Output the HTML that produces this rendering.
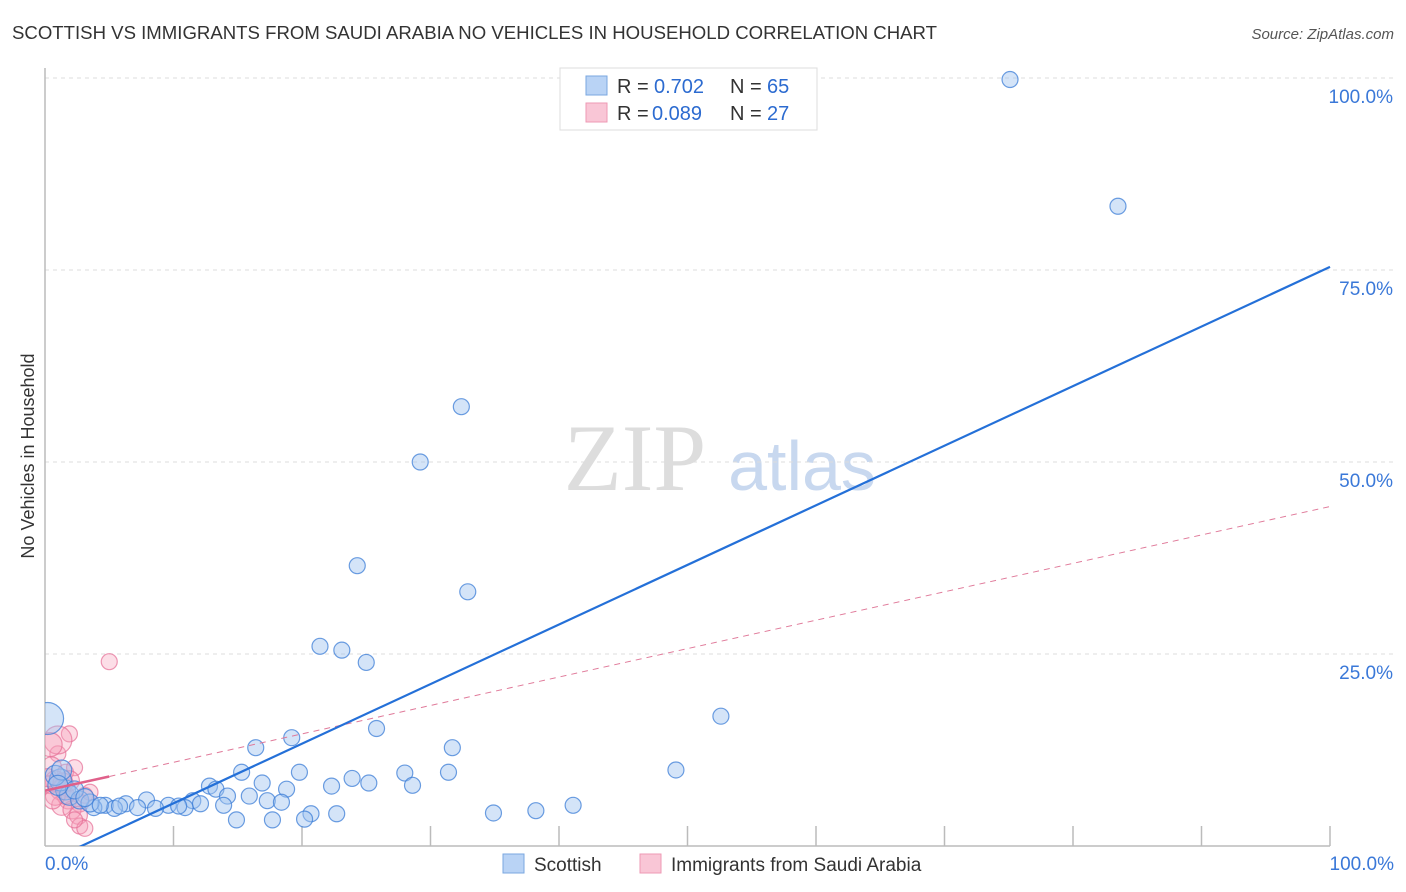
<!DOCTYPE html>
<html><head><meta charset="utf-8"><style>
body{margin:0;background:#fff;font-family:"Liberation Sans",sans-serif}
svg{display:block}
</style></head><body>
<svg id="c" width="1406" height="892">
<defs><clipPath id="pc"><rect x="45" y="60" width="1361" height="786"/></clipPath></defs>
<text x="12" y="39" font-size="18.5" fill="#333" textLength="925" lengthAdjust="spacingAndGlyphs">SCOTTISH VS IMMIGRANTS FROM SAUDI ARABIA NO VEHICLES IN HOUSEHOLD CORRELATION CHART</text>
<text x="1394" y="39" font-size="15" fill="#555" font-style="italic" text-anchor="end">Source: ZipAtlas.com</text>
<text x="0" y="0" transform="translate(34,456) rotate(-90)" font-size="18" fill="#333" text-anchor="middle">No Vehicles in Household</text>
<g><text x="635" y="490" font-size="95" font-family="Liberation Serif,serif" fill="#ddd" text-anchor="middle">ZIP</text><text x="802" y="490" font-size="70" fill="#c8d8ef" text-anchor="middle">atlas</text></g>
<g id="grid"></g><g id="marks" clip-path="url(#pc)"></g>
<g>
<rect x="560" y="68" width="257" height="62" fill="#fff" stroke="#ddd"/>
<rect x="586" y="76" width="21" height="19" fill="#b9d3f5" stroke="#7aa7e0"/>
<rect x="586" y="103" width="21" height="19" fill="#f9c6d6" stroke="#ee99b4"/>
<text x="617" y="93" font-size="20" fill="#333">R =</text><text x="654" y="93" font-size="20" fill="#2c6bd0">0.702</text>
<text x="730" y="93" font-size="20" fill="#333">N =</text><text x="767" y="93" font-size="20" fill="#2c6bd0">65</text>
<text x="617" y="120" font-size="20" fill="#333">R =</text><text x="652" y="120" font-size="20" fill="#2c6bd0">0.089</text>
<text x="730" y="120" font-size="20" fill="#333">N =</text><text x="767" y="120" font-size="20" fill="#2c6bd0">27</text>
</g>
<g>
<rect x="503" y="854" width="21" height="19" fill="#b9d3f5" stroke="#7aa7e0"/>
<text x="534" y="871" font-size="19" fill="#333">Scottish</text>
<rect x="640" y="854" width="21" height="19" fill="#f9c6d6" stroke="#ee99b4"/>
<text x="671" y="871" font-size="19" fill="#333">Immigrants from Saudi Arabia</text>
</g>
</svg>
<script>
const yTicks=[25,50,75,100];
const xTickLabels=["0.0%","100.0%"];
const blueX=[75.1,83.5,32.4,29.2,24.3,32.9,21.4,23.1,25.0,52.6,25.8,19.2,31.7,16.4,49.1,15.3,19.8,28.0,31.4,23.9,12.8,16.9,25.2,22.3,28.6,18.8,13.3,14.2,15.9,17.3,18.4,11.5,12.1,7.9,6.3,9.6,10.9,7.2,4.7,3.8,5.4,8.6,10.4,13.9,41.1,38.2,34.9,20.7,22.7,14.9,17.7,20.2,1.6,1.9,2.7,3.5,1.2,0.8,1.3,2.3,3.1,0.2,1.0,4.3,5.8];
const blueY=[99.8,83.3,57.2,50.0,36.5,33.1,26.0,25.5,23.9,16.9,15.3,14.1,12.8,12.8,9.9,9.6,9.6,9.5,9.6,8.8,7.8,8.2,8.2,7.8,7.9,7.4,7.4,6.5,6.5,5.9,5.7,5.9,5.5,6.0,5.5,5.3,5.0,5.0,5.3,5.0,4.9,4.9,5.2,5.3,5.3,4.6,4.3,4.2,4.2,3.4,3.4,3.5,7.3,6.6,6.0,5.6,8.6,9.2,9.9,7.3,6.3,16.6,7.9,5.3,5.2];
const blueR=[8,8,8,8,8,8,8,8,8,8,8,8,8,8,8,8,8,8,8,8,8,8,8,8,8,8,8,8,8,8,8,8,8,8,8,8,8,8,8,8,8,8,8,8,8,8,8,8,8,8,8,8,10,10,9,9,11,10,10,9,9,16,10,8,8];
const pinkX=[5.0,1.9,1.0,0.5,1.6,2.3,0.8,1.2,0.4,1.8,2.7,3.1,1.3,2.1,2.6,2.7,3.1,1.0,0.4,1.6,0.8,0.2,2.3,3.5,1.9,0.6,1.4];
const pinkY=[24.0,14.6,12.0,10.3,9.6,10.2,8.5,7.3,8.0,6.0,5.6,6.6,5.3,4.7,4.0,2.6,2.3,13.8,13.2,6.6,6.6,8.9,3.4,7.0,8.5,6.0,8.2];
const pinkR=[8,8,8,10,8,8,10,10,9,9,9,8,10,9,9,8,8,14,12,9,10,9,8,8,10,9,10];
const blueLine=[-2.2,75.4], pinkLine=[7.2,44.2];
const X=v=>45+v*12.85, Y=v=>846-v*7.68;
const ns="http://www.w3.org/2000/svg";
function mk(t,a,p){const e=document.createElementNS(ns,t);for(const k in a)e.setAttribute(k,a[k]);p.appendChild(e);return e;}
const g=document.getElementById('grid'), m=document.getElementById('marks');
yTicks.forEach(t=>{
 const l=mk('line',{x1:45,x2:1394,y1:Y(t),y2:Y(t),stroke:'#ddd','stroke-dasharray':'4,4'},g);
 
 
 const tx=mk('text',{x:1393,y:Y(t)+25,'font-size':19,fill:'#3a78d8','text-anchor':'end'},g);tx.textContent=t.toFixed(1)+'%';
 
 
});
const ax=mk('line',{x1:45,x2:45,y1:68,y2:846,stroke:'#bbb','stroke-width':1.5},g);


const bx=mk('line',{x1:45,x2:1330,y1:846,y2:846,stroke:'#bbb','stroke-width':1.5},g);


for(let i=1;i<=10;i++){const tk=mk('line',{x1:X(i*10),x2:X(i*10),y1:826,y2:846,stroke:'#bbb','stroke-width':1.5},g);
 
 }
[[0,'start',45],[100,'end',1394]].forEach(([v,a,x],i)=>{const t=mk('text',{x:x,y:870,'font-size':19,fill:'#3a78d8','text-anchor':a},g);t.textContent=xTickLabels[i];
 
 });
pinkX.forEach((v,i)=>{const c=mk('circle',{cx:X(v),cy:Y(pinkY[i]),r:pinkR[i],fill:'rgba(245,160,185,0.35)',stroke:'rgba(230,110,150,0.7)','stroke-width':1.2},m);
 
 });
blueX.forEach((v,i)=>{const c=mk('circle',{cx:X(v),cy:Y(blueY[i]),r:blueR[i],fill:'rgba(160,195,240,0.45)',stroke:'rgba(60,125,215,0.75)','stroke-width':1.2},m);
 
 });
const pd=mk('line',{x1:X(0),y1:Y(pinkLine[0]),x2:X(100),y2:Y(pinkLine[1]),stroke:'#e07a9a','stroke-width':1,'stroke-dasharray':'6,5'},m);


const ps=mk('line',{x1:X(0),y1:Y(pinkLine[0]),x2:X(5),y2:Y(pinkLine[0]+(pinkLine[1]-pinkLine[0])*0.05),stroke:'#e0608a','stroke-width':2.5},m);


const bl=mk('line',{x1:X(0),y1:Y(blueLine[0]),x2:X(100),y2:Y(blueLine[1]),stroke:'#2470d8','stroke-width':2.2},m);


</script>
</body></html>
